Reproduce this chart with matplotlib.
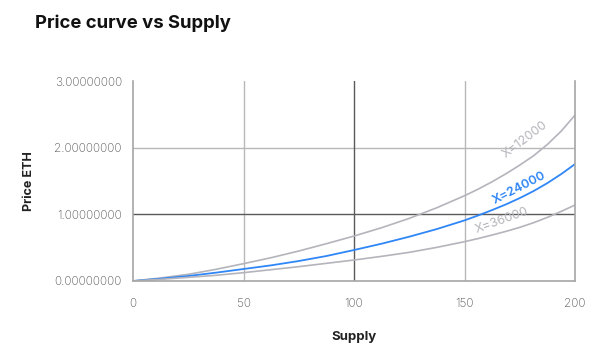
import matplotlib
matplotlib.use('Agg')
import matplotlib.pyplot as plt
from matplotlib.ticker import FormatStrFormatter

plt.rcParams['font.family'] = ['Inter', 'DejaVu Sans']

# supply values and price
supply = [0, 12.5, 25, 37.5, 50, 62.5, 75, 87.5, 100, 112.5, 125, 137.5, 150,
          156.25, 162.5, 168.75, 175, 181.25, 187.5, 193.75, 200]
price_x12000 = [0, 0.045, 0.10, 0.175, 0.26, 0.35, 0.45, 0.56, 0.675, 0.80, 0.94, 1.10, 1.28,
                1.38, 1.49, 1.61, 1.74, 1.88, 2.05, 2.25, 2.49]
price_x24000 = [0, 0.035, 0.075, 0.125, 0.18, 0.235, 0.30, 0.375, 0.465, 0.56, 0.665, 0.78, 0.91,
                0.985, 1.065, 1.15, 1.245, 1.35, 1.47, 1.605, 1.755]
price_x36000 = [0, 0.025, 0.055, 0.085, 0.125, 0.17, 0.215, 0.265, 0.315, 0.37, 0.43, 0.505, 0.59,
                0.638, 0.69, 0.745, 0.805, 0.875, 0.955, 1.045, 1.14]

gray = '#b4b4bc'
blue = '#2f86f6'
grid_light = '#b8b8b8'
grid_dark = '#5a5a5a'

fig = plt.figure(figsize=(5.94, 3.53), dpi=100)
ax = fig.add_axes([0.224, 0.204, 0.744, 0.566])

ax.plot(supply, price_x12000, color=gray, lw=1.2)
ax.plot(supply, price_x24000, color=blue, lw=1.3)
ax.plot(supply, price_x36000, color=gray, lw=1.2)

ax.text(177.4, 2.12, 'X=12000', color=gray, fontsize=9, rotation=37, ha='center', va='center')
ax.text(174.6, 1.39, 'X=24000', color=blue, fontsize=9, fontweight='semibold', rotation=27, ha='center', va='center')
ax.text(167, 0.9, 'X=36000', color=gray, fontsize=9, rotation=20, ha='center', va='center')

ax.set_xlim(0, 200)
ax.set_ylim(0, 3)
ax.set_xticks([0, 50, 100, 150, 200])
ax.set_yticks([0, 1, 2, 3])
ax.yaxis.set_major_formatter(FormatStrFormatter('%.8f'))

for x in [50, 150]:
    ax.axvline(x, color=grid_light, lw=1, zorder=0.5)
ax.axhline(2, color=grid_light, lw=1, zorder=0.5)
ax.axvline(100, color=grid_dark, lw=1, zorder=0.6)
ax.axhline(1, color=grid_dark, lw=1, zorder=0.6)

ax.spines['top'].set_visible(False)
for s in ['left', 'bottom', 'right']:
    ax.spines[s].set_color('#a6a6a6')
    ax.spines[s].set_linewidth(1.2)

ax.tick_params(length=0, colors='#555555', labelsize=8.5, pad=8)
ax.tick_params(axis='x', pad=12)
for lab in ax.get_xticklabels() + ax.get_yticklabels():
    lab.set_fontweight('light')

ax.set_xlabel('Supply', fontsize=9.5, fontweight='bold', color='#222222')
ax.set_ylabel('Price ETH', fontsize=9, fontweight='bold', color='#222222')
ax.xaxis.set_label_coords(0.5, -0.25)
ax.yaxis.set_label_coords(-0.222, 0.5)

fig.text(0.059, 0.935, 'Price curve vs Supply', fontsize=13.3, fontweight='bold', color='#111111', va='center')

fig.savefig('out.png', dpi=100, facecolor='white')
